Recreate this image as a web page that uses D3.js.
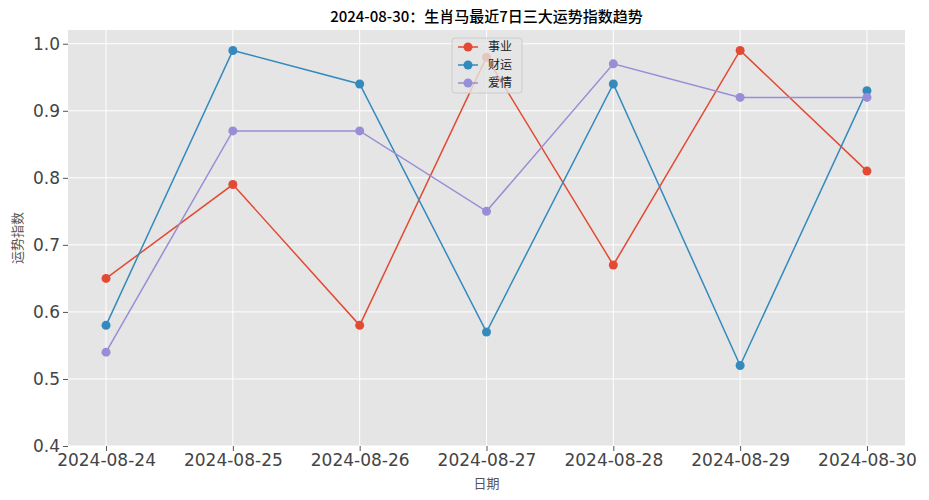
<!DOCTYPE html>
<html><head><meta charset="utf-8">
<script src="https://cdn.jsdelivr.net/npm/d3@7"></script>
<style>body{margin:0;background:#fff}</style>
</head><body><svg id="chart" width="929" height="500"></svg>
<script>
const dates = ["2024-08-24","2024-08-25","2024-08-26","2024-08-27","2024-08-28","2024-08-29","2024-08-30"];
const career = [0.65, 0.79, 0.58, 0.98, 0.67, 0.99, 0.81];
const wealth = [0.58, 0.99, 0.94, 0.57, 0.94, 0.52, 0.93];
const love = [0.54, 0.87, 0.87, 0.75, 0.97, 0.92, 0.92];
const yTicks = [0.4, 0.5, 0.6, 0.7, 0.8, 0.9, 1.0];

const series = [
  { name: "事业", values: career, color: "#E24A33" },
  { name: "财运", values: wealth, color: "#348ABD" },
  { name: "爱情", values: love, color: "#988ED5" },
];

const font = "'Noto Sans CJK SC', 'DejaVu Sans', sans-serif";
const tickFont = "'DejaVu Sans', sans-serif";
const margin = { top: 30, right: 24, bottom: 54, left: 68 };
const width = 929, height = 500;
const w = width - margin.left - margin.right;
const h = height - margin.top - margin.bottom;

const svg = d3.select("#chart");
const g = svg.append("g").attr("transform", `translate(${margin.left},${margin.top})`);

g.append("rect").attr("width", w).attr("height", h).attr("fill", "#E5E5E5");

const x = d3.scalePoint().domain(dates).range([0, w]).padding(0.3);
const y = d3.scaleLinear().domain([0.4, 1.0205]).range([h, 0]);

// grid
g.selectAll(".gx").data(dates).join("line")
  .attr("x1", d => x(d)).attr("x2", d => x(d)).attr("y1", 0).attr("y2", h)
  .attr("stroke", "#fff").attr("stroke-width", 1);
g.selectAll(".gy").data(yTicks).join("line")
  .attr("y1", d => y(d)).attr("y2", d => y(d)).attr("x1", 0).attr("x2", w)
  .attr("stroke", "#fff").attr("stroke-width", 1);

// axes
const xAxis = g.append("g").attr("transform", `translate(0,${h})`)
  .call(d3.axisBottom(x).tickSize(5).tickPadding(3));
const yAxis = g.append("g")
  .call(d3.axisLeft(y).tickValues(yTicks).tickFormat(d3.format(".1f")).tickSize(5).tickPadding(3));
[xAxis, yAxis].forEach(a => {
  a.select(".domain").remove();
  a.selectAll(".tick line").attr("stroke", "#555");
  a.selectAll("text").attr("font-family", tickFont).attr("font-size", 17).attr("fill", "#444");
});

// lines
const line = d3.line().x((d, i) => x(dates[i])).y(d => y(d));
series.forEach(s => {
  g.append("path").datum(s.values).attr("d", line)
    .attr("fill", "none").attr("stroke", s.color).attr("stroke-width", 1.5);
  g.selectAll(null).data(s.values).join("circle")
    .attr("cx", (d, i) => x(dates[i])).attr("cy", d => y(d)).attr("r", 4.5)
    .attr("fill", s.color);
});

// legend
const lg = g.append("g").attr("transform", `translate(${384},${8})`);
lg.append("rect").attr("width", 70).attr("height", 55).attr("rx", 3)
  .attr("fill", "#E5E5E5").attr("fill-opacity", 0.8).attr("stroke", "#ccc");
series.forEach((s, i) => {
  const yy = 9 + i * 18;
  lg.append("line").attr("x1", 6).attr("x2", 26).attr("y1", yy).attr("y2", yy)
    .attr("stroke", s.color).attr("stroke-width", 1.5);
  lg.append("circle").attr("cx", 16).attr("cy", yy).attr("r", 4.5).attr("fill", s.color);
  lg.append("text").attr("x", 36).attr("y", yy).attr("dy", "0.35em")
    .attr("font-family", font).attr("font-size", 12).attr("fill", "#222").text(s.name);
});

// titles
svg.append("text").attr("x", margin.left + w / 2).attr("y", 22).attr("text-anchor", "middle")
  .attr("font-family", font).attr("font-size", 15).attr("font-weight", 500).attr("fill", "#000")
  .text("2024-08-30：生肖马最近7日三大运势指数趋势");
svg.append("text").attr("x", margin.left + w / 2).attr("y", 488).attr("text-anchor", "middle")
  .attr("font-family", font).attr("font-size", 13).attr("fill", "#555").text("日期");
svg.append("text").attr("transform", `translate(22,${margin.top + h / 2}) rotate(-90)`)
  .attr("text-anchor", "middle").attr("font-family", font).attr("font-size", 13)
  .attr("fill", "#555").text("运势指数");
</script></body></html>
